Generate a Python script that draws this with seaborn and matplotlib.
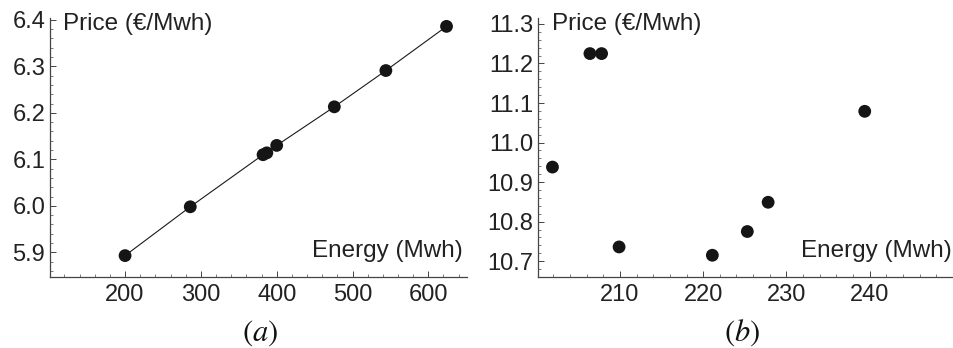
import numpy as np
import pandas as pd
import seaborn as sns
import matplotlib.pyplot as plt
from matplotlib.ticker import MultipleLocator, FixedLocator

# data
energy_a = [200, 286, 382, 387, 400, 476, 544, 624]
price_a = [5.893, 5.998, 6.110, 6.114, 6.130, 6.213, 6.291, 6.386]
energy_b = [201.9, 206.4, 207.8, 209.9, 221.1, 225.3, 227.8, 239.4]
price_b = [10.938, 11.225, 11.225, 10.736, 10.715, 10.775, 10.849, 11.079]
xticks_a = [200, 300, 400, 500, 600]
yticks_a = [5.9, 6.0, 6.1, 6.2, 6.3, 6.4]
xticks_b = [210, 220, 230, 240]
yticks_b = [10.7, 10.8, 10.9, 11.0, 11.1, 11.2, 11.3]

sns.set_style("ticks")
plt.rcParams['font.family'] = ['Liberation Sans', 'DejaVu Sans']
plt.rcParams['mathtext.fontset'] = 'stix'

W, H = 954, 348
fig = plt.figure(figsize=(W / 100, H / 100), dpi=100)
ax1 = fig.add_axes([50 / W, 1 - 277 / H, 417 / W, 259 / H])
ax2 = fig.add_axes([538.3 / W, 1 - 277 / H, 414.7 / W, 259 / H])

dfa = pd.DataFrame({"energy": energy_a, "price": price_a})
dfb = pd.DataFrame({"energy": energy_b, "price": price_b})

sns.lineplot(data=dfa, x="energy", y="price", ax=ax1, color="#1a1a1a", lw=0.8, sort=True)
sns.scatterplot(data=dfa, x="energy", y="price", ax=ax1, color="#151515", s=85,
                edgecolor="none", zorder=3)
sns.scatterplot(data=dfb, x="energy", y="price", ax=ax2, color="#151515", s=85,
                edgecolor="none", zorder=3)

ax1.set_xlim(101, 651)
ax1.set_ylim(5.847, 6.404)
ax2.set_xlim(200.2, 250)
ax2.set_ylim(10.66, 11.315)

for ax, xt, yt, xm, ym in [(ax1, xticks_a, yticks_a, 20, 0.02),
                           (ax2, xticks_b, yticks_b, 2, 0.02)]:
    ax.set_xlabel("")
    ax.set_ylabel("")
    ax.xaxis.set_major_locator(FixedLocator(xt))
    ax.yaxis.set_major_locator(FixedLocator(yt))
    ax.xaxis.set_minor_locator(MultipleLocator(xm))
    ax.yaxis.set_minor_locator(MultipleLocator(ym))
    ax.set_yticklabels(["%.1f" % v for v in yt])
    ax.tick_params(which="major", direction="in", length=4.5, width=0.7,
                   color="#444444", labelsize=17, labelcolor="#222222")
    ax.tick_params(which="minor", direction="in", length=2.5, width=0.6, color="#666666")
    ax.tick_params(axis="x", which="major", pad=5)
    ax.tick_params(axis="y", which="major", pad=3.5)
    for s in ["top", "right"]:
        ax.spines[s].set_visible(False)
    for s in ["left", "bottom"]:
        ax.spines[s].set_color("#444444")
        ax.spines[s].set_linewidth(0.9)
    ax.patch.set_alpha(0)

# axis labels inside the plot, Mathematica style
lab = dict(fontsize=17.5, color="#222222", va="top")
fig.text(63 / W, 1 - 13 / H, "Price (€/Mwh)", ha="left", **lab)
fig.text(463 / W, 1 - 240 / H, "Energy (Mwh)", ha="right", **lab)
fig.text(552.5 / W, 1 - 13 / H, "Price (€/Mwh)", ha="left", **lab)
fig.text(951.5 / W, 1 - 240 / H, "Energy (Mwh)", ha="right", **lab)

fig.text(260.5 / W, 1 - 333 / H, r"$(a)$", fontsize=22, color="#111111", ha="center", va="center")
fig.text(742 / W, 1 - 333 / H, r"$(b)$", fontsize=22, color="#111111", ha="center", va="center")

fig.savefig("out.png", dpi=100)
